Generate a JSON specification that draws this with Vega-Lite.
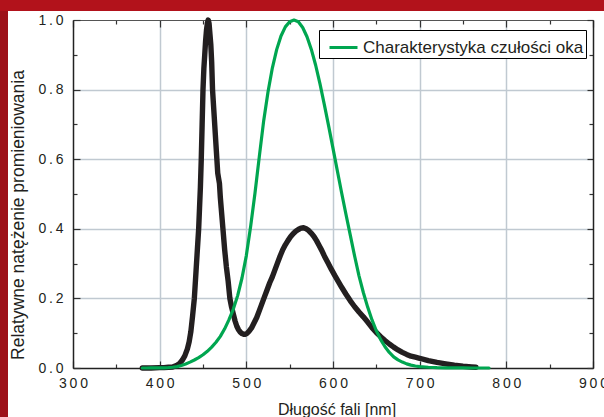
{
  "$schema": "https://vega.github.io/schema/vega-lite/v6.json",
  "width": 520,
  "height": 348,
  "autosize": {"type": "none"},
  "padding": {"left": 73, "top": 20, "right": 11, "bottom": 49},
  "background": "#ffffff",
  "config": {"view": {"stroke": null}},
  "datasets": {
    "led": [
      {"nm": 380, "v": 0}, {"nm": 390, "v": 0}, {"nm": 400, "v": 0.001}, {"nm": 405, "v": 0.001}, {"nm": 410, "v": 0.002}, {"nm": 415, "v": 0.003},
      {"nm": 420, "v": 0.008}, {"nm": 423, "v": 0.013}, {"nm": 426, "v": 0.022}, {"nm": 429, "v": 0.035}, {"nm": 432, "v": 0.055}, {"nm": 434, "v": 0.075},
      {"nm": 436, "v": 0.105}, {"nm": 438, "v": 0.15}, {"nm": 440, "v": 0.2}, {"nm": 442, "v": 0.28}, {"nm": 444, "v": 0.36}, {"nm": 445, "v": 0.4},
      {"nm": 446, "v": 0.46}, {"nm": 447, "v": 0.52}, {"nm": 448, "v": 0.6}, {"nm": 449, "v": 0.7}, {"nm": 450, "v": 0.8}, {"nm": 451, "v": 0.86},
      {"nm": 452, "v": 0.9}, {"nm": 453, "v": 0.94}, {"nm": 454, "v": 0.97}, {"nm": 455, "v": 0.99}, {"nm": 456, "v": 1.0}, {"nm": 457, "v": 0.99},
      {"nm": 458, "v": 0.96}, {"nm": 459, "v": 0.93}, {"nm": 460, "v": 0.88}, {"nm": 461, "v": 0.8}, {"nm": 463, "v": 0.72}, {"nm": 465, "v": 0.64},
      {"nm": 466, "v": 0.6}, {"nm": 467, "v": 0.56}, {"nm": 468, "v": 0.545}, {"nm": 469, "v": 0.53}, {"nm": 470, "v": 0.49}, {"nm": 471, "v": 0.46},
      {"nm": 473, "v": 0.4}, {"nm": 475, "v": 0.34}, {"nm": 477, "v": 0.29}, {"nm": 479, "v": 0.25}, {"nm": 481, "v": 0.2}, {"nm": 483, "v": 0.175},
      {"nm": 485, "v": 0.155}, {"nm": 487, "v": 0.135}, {"nm": 489, "v": 0.12}, {"nm": 491, "v": 0.11}, {"nm": 493, "v": 0.103}, {"nm": 495, "v": 0.099},
      {"nm": 497, "v": 0.097}, {"nm": 499, "v": 0.097}, {"nm": 501, "v": 0.1}, {"nm": 503, "v": 0.105}, {"nm": 506, "v": 0.115}, {"nm": 509, "v": 0.13},
      {"nm": 512, "v": 0.145}, {"nm": 515, "v": 0.165}, {"nm": 518, "v": 0.185}, {"nm": 521, "v": 0.205}, {"nm": 524, "v": 0.225}, {"nm": 527, "v": 0.245},
      {"nm": 530, "v": 0.262}, {"nm": 533, "v": 0.282}, {"nm": 536, "v": 0.302}, {"nm": 539, "v": 0.322}, {"nm": 542, "v": 0.34}, {"nm": 545, "v": 0.354},
      {"nm": 548, "v": 0.366}, {"nm": 551, "v": 0.377}, {"nm": 554, "v": 0.386}, {"nm": 557, "v": 0.393}, {"nm": 560, "v": 0.398}, {"nm": 563, "v": 0.402},
      {"nm": 566, "v": 0.403}, {"nm": 569, "v": 0.4}, {"nm": 572, "v": 0.395}, {"nm": 575, "v": 0.387}, {"nm": 578, "v": 0.378}, {"nm": 581, "v": 0.366},
      {"nm": 584, "v": 0.352}, {"nm": 587, "v": 0.338}, {"nm": 590, "v": 0.322}, {"nm": 594, "v": 0.303}, {"nm": 598, "v": 0.284}, {"nm": 602, "v": 0.266},
      {"nm": 606, "v": 0.249}, {"nm": 610, "v": 0.232}, {"nm": 615, "v": 0.212}, {"nm": 620, "v": 0.193}, {"nm": 625, "v": 0.176}, {"nm": 630, "v": 0.161},
      {"nm": 635, "v": 0.147}, {"nm": 640, "v": 0.132}, {"nm": 645, "v": 0.116}, {"nm": 650, "v": 0.102}, {"nm": 655, "v": 0.09}, {"nm": 660, "v": 0.079},
      {"nm": 665, "v": 0.069}, {"nm": 670, "v": 0.06}, {"nm": 675, "v": 0.052}, {"nm": 680, "v": 0.045}, {"nm": 685, "v": 0.039}, {"nm": 690, "v": 0.034},
      {"nm": 695, "v": 0.031}, {"nm": 700, "v": 0.028}, {"nm": 710, "v": 0.021}, {"nm": 720, "v": 0.016}, {"nm": 730, "v": 0.012}, {"nm": 740, "v": 0.008},
      {"nm": 750, "v": 0.005}, {"nm": 760, "v": 0.003}, {"nm": 765, "v": 0.002}
    ],
    "eye": [
      {"nm": 380, "v": 0.00004}, {"nm": 385, "v": 0.00006}, {"nm": 390, "v": 0.00012}, {"nm": 395, "v": 0.00022}, {"nm": 400, "v": 0.0004},
      {"nm": 405, "v": 0.00064}, {"nm": 410, "v": 0.00121}, {"nm": 415, "v": 0.00218}, {"nm": 420, "v": 0.004}, {"nm": 425, "v": 0.0073},
      {"nm": 430, "v": 0.0116}, {"nm": 435, "v": 0.01684}, {"nm": 440, "v": 0.023}, {"nm": 445, "v": 0.0298}, {"nm": 450, "v": 0.038},
      {"nm": 455, "v": 0.048}, {"nm": 460, "v": 0.06}, {"nm": 465, "v": 0.0739}, {"nm": 470, "v": 0.091}, {"nm": 475, "v": 0.1126},
      {"nm": 480, "v": 0.139}, {"nm": 485, "v": 0.1693}, {"nm": 490, "v": 0.208}, {"nm": 495, "v": 0.2586}, {"nm": 500, "v": 0.323},
      {"nm": 505, "v": 0.4073}, {"nm": 510, "v": 0.503}, {"nm": 515, "v": 0.6082}, {"nm": 520, "v": 0.71}, {"nm": 525, "v": 0.7932},
      {"nm": 530, "v": 0.862}, {"nm": 535, "v": 0.9149}, {"nm": 540, "v": 0.954}, {"nm": 545, "v": 0.9803}, {"nm": 550, "v": 0.995},
      {"nm": 555, "v": 1.0}, {"nm": 560, "v": 0.995}, {"nm": 565, "v": 0.9786}, {"nm": 570, "v": 0.952}, {"nm": 575, "v": 0.9154},
      {"nm": 580, "v": 0.87}, {"nm": 585, "v": 0.8163}, {"nm": 590, "v": 0.757}, {"nm": 595, "v": 0.6949}, {"nm": 600, "v": 0.631},
      {"nm": 605, "v": 0.5668}, {"nm": 610, "v": 0.503}, {"nm": 615, "v": 0.4412}, {"nm": 620, "v": 0.381}, {"nm": 625, "v": 0.321},
      {"nm": 630, "v": 0.265}, {"nm": 635, "v": 0.217}, {"nm": 640, "v": 0.175}, {"nm": 645, "v": 0.1382}, {"nm": 650, "v": 0.107},
      {"nm": 655, "v": 0.0816}, {"nm": 660, "v": 0.061}, {"nm": 665, "v": 0.0446}, {"nm": 670, "v": 0.032}, {"nm": 675, "v": 0.0232},
      {"nm": 680, "v": 0.017}, {"nm": 685, "v": 0.0119}, {"nm": 690, "v": 0.0082}, {"nm": 695, "v": 0.0057}, {"nm": 700, "v": 0.0041},
      {"nm": 710, "v": 0.0021}, {"nm": 720, "v": 0.001}, {"nm": 730, "v": 0.0005}, {"nm": 740, "v": 0.00025}, {"nm": 750, "v": 0.00012},
      {"nm": 760, "v": 0.00006}, {"nm": 770, "v": 0.00003}, {"nm": 780, "v": 0.000015}
    ]
  },
  "layer": [
    {
      "data": {"values": [{}]},
      "mark": {"type": "rect", "color": "#b2121b", "clip": false},
      "encoding": {
        "x": {"datum": 150, "type": "quantitative", "scale": {"domain": [300, 900], "nice": false, "zero": false}, "axis": null},
        "x2": {"datum": 950},
        "y": {"datum": 1.0259, "type": "quantitative", "scale": {"domain": [0, 1], "nice": false, "zero": false}, "axis": null},
        "y2": {"datum": 1.3}
      }
    },
    {
      "data": {"values": [{}]},
      "mark": {"type": "rect", "color": "#9d1119", "clip": false},
      "encoding": {
        "x": {"datum": 150, "type": "quantitative", "scale": {"domain": [300, 900], "nice": false, "zero": false}, "axis": null},
        "x2": {"datum": 225},
        "y": {"datum": -0.3, "type": "quantitative", "scale": {"domain": [0, 1], "nice": false, "zero": false}, "axis": null},
        "y2": {"datum": 1.0259}
      }
    },
    {
      "data": {"name": "led"},
      "mark": {"type": "line", "color": "#231f20", "strokeWidth": 5.4, "strokeCap": "round", "strokeJoin": "round"},
      "encoding": {
        "x": {
          "field": "nm", "type": "quantitative",
          "scale": {"domain": [300, 900], "nice": false, "zero": false},
          "axis": {
            "orient": "bottom",
            "values": [300, 350, 400, 450, 500, 550, 600, 650, 700, 750, 800, 850, 900],
            "labelExpr": "datum.value % 100 === 0 ? join(split(datum.label, ''), '\u2009') : ''",
            "labelFont": "Liberation Sans", "labelFontSize": 14, "labelColor": "#231f20", "labelPadding": 15,
            "labelFlush": false, "labelOverlap": false,
            "tickSize": {"condition": {"test": "datum.value % 100 === 0", "value": -7}, "value": -4},
            "tickColor": "#333333", "tickWidth": 1.2,
            "domainColor": "#222222", "domainWidth": 1.5,
            "grid": true, "gridColor": "#c0c9d1", "gridWidth": 1.5,
            "gridOpacity": {"condition": {"test": "datum.value % 100 === 0 && datum.value > 300 && datum.value < 900", "value": 1}, "value": 0},
            "title": "Długość fali [nm]", "titleFont": "Liberation Sans", "titleFontSize": 16, "titleFontWeight": "normal",
            "titleColor": "#231f20", "titleX": 263.5, "titleY": 46, "titleBaseline": "alphabetic", "titleAlign": "center"
          }
        },
        "y": {
          "field": "v", "type": "quantitative",
          "scale": {"domain": [0, 1], "nice": false, "zero": false},
          "axis": {
            "orient": "left",
            "values": [0, 0.1, 0.2, 0.3, 0.4, 0.5, 0.6, 0.7, 0.8, 0.9, 1.0],
            "format": ".1f",
            "labelExpr": "round(datum.value * 10) % 2 === 0 ? join(split(datum.label, ''), '\u2009') : ''",
            "labelFont": "Liberation Sans", "labelFontSize": 14, "labelColor": "#231f20", "labelPadding": 17,
            "labelFlush": false, "labelOverlap": false,
            "tickSize": {"condition": {"test": "round(datum.value * 10) % 2 === 0", "value": -7}, "value": -4},
            "tickColor": "#333333", "tickWidth": 1.2,
            "domainColor": "#222222", "domainWidth": 1.5,
            "grid": true, "gridColor": "#c0c9d1", "gridWidth": 1.5,
            "gridOpacity": {"condition": {"test": "round(datum.value * 10) % 2 === 0 && datum.value > 0.05 && datum.value < 0.95", "value": 1}, "value": 0},
            "title": "Relatywne natężenie promieniowania", "titleFont": "Liberation Sans", "titleFontSize": 17.5, "titleFontWeight": "normal",
            "titleColor": "#231f20", "titleAngle": -90, "titleX": -50, "titleY": 194.5, "titleBaseline": "alphabetic", "titleAlign": "center"
          }
        }
      }
    },
    {
      "data": {"name": "eye"},
      "mark": {"type": "line", "strokeWidth": 3.2, "strokeCap": "round", "strokeJoin": "round"},
      "encoding": {
        "x": {
          "field": "nm", "type": "quantitative",
          "scale": {"domain": [300, 900], "nice": false, "zero": false},
          "axis": {
            "orient": "top",
            "values": [300, 350, 400, 450, 500, 550, 600, 650, 700, 750, 800, 850, 900],
            "labels": false, "grid": false, "title": null,
            "tickSize": {"condition": {"test": "datum.value % 100 === 0", "value": -7}, "value": -4},
            "tickColor": "#333333", "tickWidth": 1.2,
            "domainColor": "#555555", "domainWidth": 1.2
          }
        },
        "y": {
          "field": "v", "type": "quantitative",
          "scale": {"domain": [0, 1], "nice": false, "zero": false},
          "axis": {
            "orient": "right",
            "values": [0, 0.1, 0.2, 0.3, 0.4, 0.5, 0.6, 0.7, 0.8, 0.9, 1.0],
            "labels": false, "grid": false, "title": null,
            "tickSize": {"condition": {"test": "round(datum.value * 10) % 2 === 0", "value": -6}, "value": -4},
            "tickColor": "#333333", "tickWidth": 1.2,
            "domainColor": "#222222", "domainWidth": 1.5
          }
        },
        "color": {
          "datum": "Charakterystyka czułości oka", "type": "nominal",
          "scale": {"range": ["#00a650"]},
          "legend": {
            "orient": "none", "legendX": 246, "legendY": 10, "title": null,
            "strokeColor": "#000000", "fillColor": "#ffffff", "padding": 2,
            "symbolType": "stroke", "symbolSize": 784, "symbolStrokeWidth": 3, "symbolOffset": 7,
            "labelFont": "Liberation Sans", "labelFontSize": 17, "labelColor": "#231f20", "labelOffset": 4, "labelLimit": 400
          }
        }
      }
    }
  ],
  "resolve": {"axis": {"x": "independent", "y": "independent"}}
}
